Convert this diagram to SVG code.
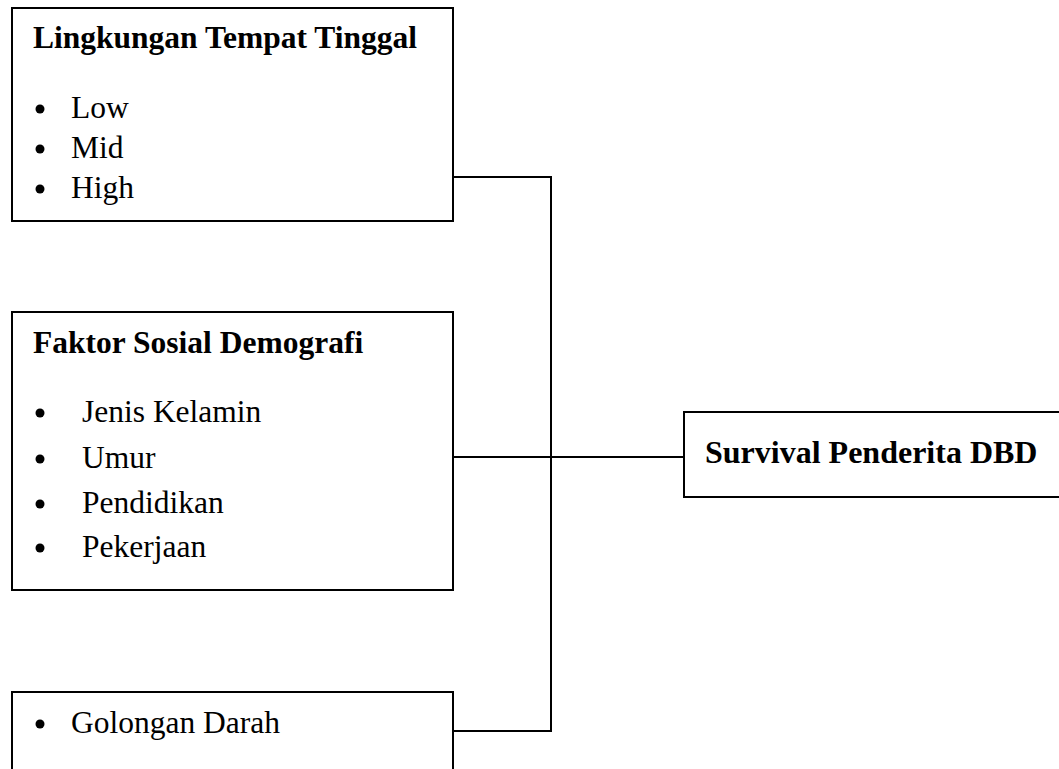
<svg xmlns="http://www.w3.org/2000/svg" width="1059" height="769" viewBox="0 0 1059 769">
<style>
.box{fill:#fff;stroke:#000;stroke-width:2}
.t{font-family:"Liberation Serif","Times New Roman",serif;font-size:31.5px;fill:#000}
.b{font-weight:bold}
.conn{fill:none;stroke:#000;stroke-width:2}
</style>
<g id="connectors">
<polyline class="conn" points="453,177 551,177 551,731 453,731"/>
<line class="conn" x1="453" y1="457" x2="684" y2="457"/>
</g>
<g id="node-lingkungan">
<rect class="box" x="12" y="8" width="441" height="213"/>
<text class="t b" x="33" y="48">Lingkungan Tempat Tinggal</text>
<circle cx="40" cy="109" r="4.5"/><text class="t" x="71" y="118">Low</text>
<circle cx="40" cy="149" r="4.5"/><text class="t" x="71" y="158">Mid</text>
<circle cx="40" cy="189" r="4.5"/><text class="t" x="71" y="198">High</text>
</g>
<g id="node-sosial">
<rect class="box" x="12" y="312" width="441" height="278"/>
<text class="t b" x="33" y="353">Faktor Sosial Demografi</text>
<circle cx="40" cy="413" r="4.5"/><text class="t" x="82" y="422">Jenis Kelamin</text>
<circle cx="40" cy="459" r="4.5"/><text class="t" x="82" y="468">Umur</text>
<circle cx="40" cy="504" r="4.5"/><text class="t" x="82" y="513">Pendidikan</text>
<circle cx="40" cy="548" r="4.5"/><text class="t" x="82" y="557">Pekerjaan</text>
</g>
<g id="node-golongan">
<rect class="box" x="12" y="692" width="441" height="100"/>
<circle cx="40" cy="724" r="4.5"/><text class="t" x="71" y="733">Golongan Darah</text>
</g>
<g id="node-survival">
<rect class="box" x="684" y="412" width="390" height="85"/>
<text class="t b" x="705" y="463" style="font-size:32px">Survival Penderita DBD</text>
</g>
</svg>
